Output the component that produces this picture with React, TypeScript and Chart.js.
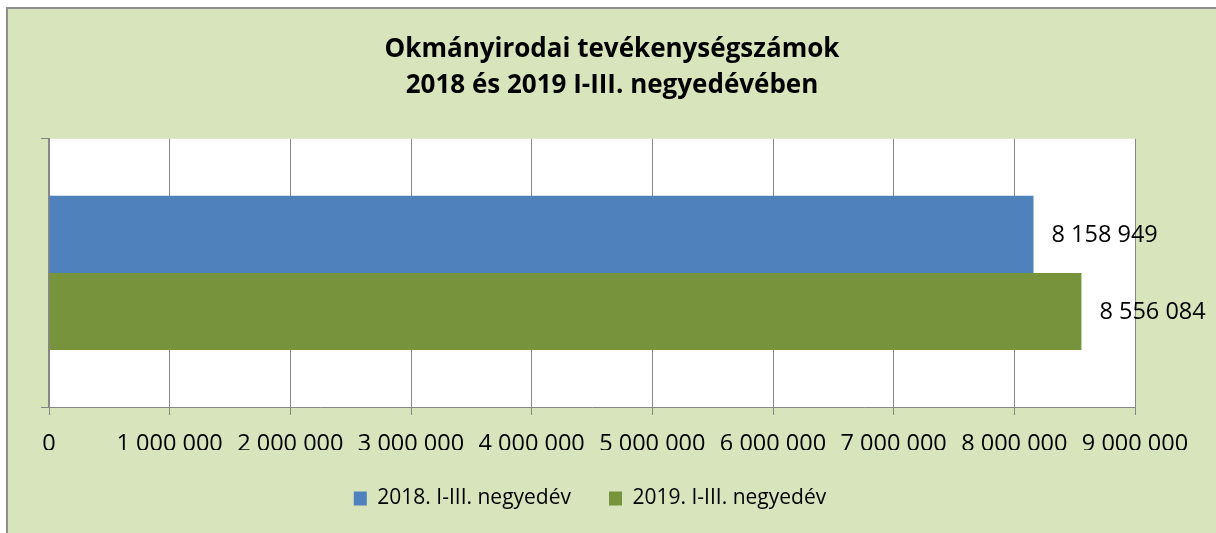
import React, { useEffect, useRef } from "react";
import { Chart, registerables } from "chart.js";

Chart.register(...registerables);

const titleLines = ["Okmányirodai tevékenységszámok", "2018 és 2019 I-III. negyedévében"];
const categories = [""];
const seriesNames = ["2018. I-III. negyedév", "2019. I-III. negyedév"];
const values2018 = [8158949];
const values2019 = [8556084];
const seriesColors = ["#4F81BD", "#77933C"];
const axisMin = 0;
const axisMax = 9000000;
const axisStep = 1000000;

const FONT = "'Open Sans', 'Noto Sans', sans-serif";
const GRID = "#878787";

const fmt = (v: number) =>
  Math.round(v)
    .toString()
    .replace(/\B(?=(\d{3})+(?!\d))/g, " ");

const plotBgPlugin = {
  id: "plotBg",
  beforeDraw(chart: any) {
    const { ctx, chartArea } = chart;
    ctx.save();
    ctx.fillStyle = "#FFFFFF";
    ctx.fillRect(chartArea.left, chartArea.top, chartArea.right - chartArea.left, chartArea.bottom - chartArea.top);
    ctx.restore();
  },
};

const legendShiftPlugin = {
  id: "legendShift",
  afterLayout(chart: any) {
    const lg = chart.legend;
    if (lg) {
      lg.left -= 22;
      lg.right -= 22;
    }
  },
};

const labelPlugin = {
  id: "barLabels",
  afterDatasetsDraw(chart: any) {
    const { ctx } = chart;
    ctx.save();
    ctx.font = `23.5px ${FONT}`;
    ctx.fillStyle = "#000000";
    ctx.textAlign = "left";
    ctx.textBaseline = "middle";
    chart.data.datasets.forEach((ds: any, di: number) => {
      const meta = chart.getDatasetMeta(di);
      meta.data.forEach((el: any, i: number) => {
        ctx.fillText(fmt(ds.data[i]), el.x + 18, el.y + 1);
      });
    });
    ctx.restore();
  },
};

export default function App() {
  const ref = useRef<HTMLCanvasElement | null>(null);
  useEffect(() => {
    if (!ref.current) return;
    const chart = new Chart(ref.current, {
      type: "bar",
      data: {
        labels: categories,
        datasets: [
          { label: seriesNames[0], data: values2018, backgroundColor: seriesColors[0], borderWidth: 0 },
          { label: seriesNames[1], data: values2019, backgroundColor: seriesColors[1], borderWidth: 0 },
        ],
      },
      options: {
        indexAxis: "y",
        responsive: false,
        animation: false,
        devicePixelRatio: 1,
        layout: { padding: 0 },
        datasets: { bar: { categoryPercentage: 0.5746, barPercentage: 1 } },
        plugins: {
          title: {
            display: true,
            text: titleLines,
            color: "#000000",
            font: { family: FONT, size: 26, weight: "bold", lineHeight: 1.4 },
            padding: { top: 22, bottom: 35 },
          },
          legend: {
            display: true,
            position: "bottom",
            labels: {
              color: "#000000",
              font: { family: FONT, size: 21 },
              boxWidth: 13,
              boxHeight: 14,
              padding: 38,
            },
          },
          tooltip: { enabled: false },
        },
        scales: {
          x: {
            type: "linear",
            min: axisMin,
            max: axisMax,
            afterFit: (s: any) => {
              s.height = 43;
            },
            ticks: {
              stepSize: axisStep,
              color: "#000000",
              font: { family: FONT, size: 23.5 },
              padding: 15,
              maxRotation: 0,
              autoSkip: false,
              callback: (v: any) => fmt(Number(v)),
            },
            grid: { color: GRID, lineWidth: 1, tickLength: 8, drawTicks: true },
            border: { color: GRID, width: 1 },
          },
          y: {
            type: "category",
            afterFit: (s: any) => {
              s.width = 41;
            },
            ticks: { display: false },
            grid: { color: GRID, lineWidth: 1, tickLength: 8, drawOnChartArea: false, drawTicks: true, offset: true },
            border: { color: GRID, width: 2 },
          },
          yRight: {
            type: "category",
            position: "right",
            display: true,
            afterFit: (s: any) => {
              s.width = 81;
            },
            ticks: { display: false },
            grid: { display: false },
            border: { display: false },
          },
        },
      },
      plugins: [plotBgPlugin, legendShiftPlugin, labelPlugin],
    });
    return () => chart.destroy();
  }, []);

  return (
    <div
      style={{
        position: "absolute",
        left: 6,
        top: 7,
        right: 0,
        bottom: 0,
        background: "#D8E4BC",
        borderLeft: "2px solid #8E8E8E",
        borderTop: "2px solid #8E8E8E",
        overflow: "hidden",
      }}
    >
      <canvas ref={ref} width={1208} height={510} style={{ display: "block" }} />
    </div>
  );
}
